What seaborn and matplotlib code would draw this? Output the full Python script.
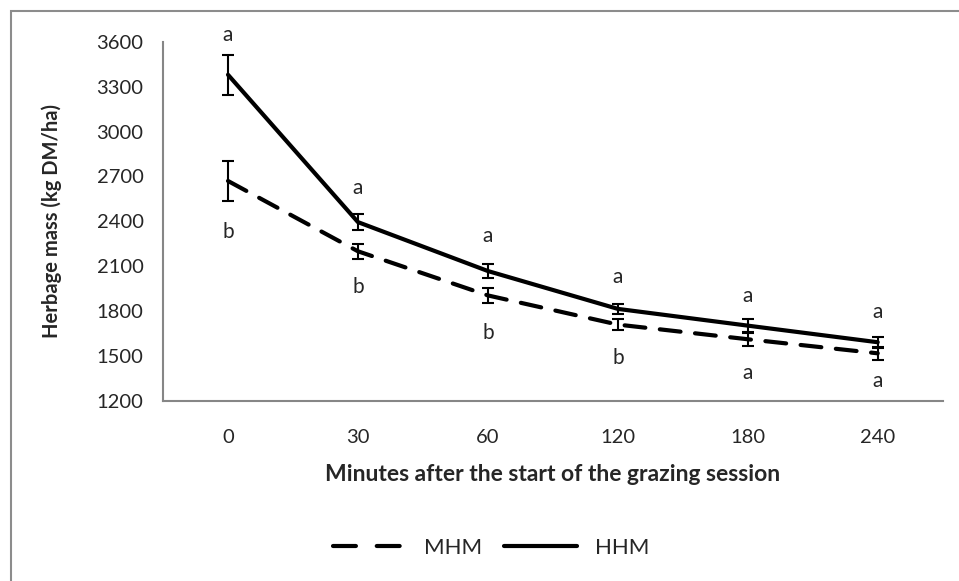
import numpy as np
import pandas as pd
import matplotlib
matplotlib.use("Agg")
import matplotlib.pyplot as plt
from matplotlib.patches import Rectangle
import seaborn as sns

# data
minutes = ["0", "30", "60", "120", "180", "240"]
mhm_mean = [2670, 2200, 1905, 1710, 1612, 1518]
mhm_err = [135, 52, 50, 35, 45, 42]
hhm_mean = [3380, 2395, 2068, 1815, 1703, 1592]
hhm_err = [135, 52, 45, 35, 43, 38]
hhm_letters = ["a", "a", "a", "a", "a", "a"]
mhm_letters = ["b", "b", "b", "b", "a", "a"]
hhm_letter_y = [3647, 2624, 2303, 2029, 1902, 1795]
mhm_letter_y = [2330, 1962, 1655, 1487, 1387, 1334]
y_ticks = [1200, 1500, 1800, 2100, 2400, 2700, 3000, 3300, 3600]

sns.set_style("white")
plt.rcParams["font.family"] = ["Lato", "DejaVu Sans"]

pos = np.arange(len(minutes))
df = pd.DataFrame({
    "pos": np.concatenate([pos, pos]),
    "mass": mhm_mean + hhm_mean,
    "group": ["MHM"] * len(minutes) + ["HHM"] * len(minutes),
})

fig = plt.figure(figsize=(9.59, 5.81), dpi=100)
ax = fig.add_axes([0.170, 0.310, 0.813, 0.618])

sns.lineplot(data=df, x="pos", y="mass", style="group", style_order=["MHM", "HHM"],
             dashes={"MHM": (5, 3.5), "HHM": ""}, color="black", linewidth=3,
             ax=ax, legend=True)
for line in ax.get_lines():
    line.set_dash_capstyle("round")

ax.errorbar(pos, mhm_mean, yerr=mhm_err, fmt="none", ecolor="black",
            elinewidth=1.5, capsize=4.5, capthick=1.5)
ax.errorbar(pos, hhm_mean, yerr=hhm_err, fmt="none", ecolor="black",
            elinewidth=1.5, capsize=4.5, capthick=1.5)

for i in range(len(minutes)):
    ax.text(pos[i], hhm_letter_y[i], hhm_letters[i], ha="center", va="center",
            fontsize=15, clip_on=False)
    ax.text(pos[i], mhm_letter_y[i], mhm_letters[i], ha="center", va="center",
            fontsize=15, clip_on=False)

ax.set_xlim(-0.5, len(minutes) - 0.5)
ax.set_ylim(1200, 3600)
ax.set_yticks(y_ticks)
ax.set_xticks(pos)
ax.set_xticklabels(minutes)
ax.set_xticks(np.arange(-0.5, len(minutes), 1.0), minor=True)
ax.tick_params(axis="x", which="major", length=0, pad=20, labelsize=14.5)
ax.tick_params(axis="x", which="minor", length=6, width=1.3, color="#868686",
               direction="out")
ax.tick_params(axis="y", length=5, width=1.3, color="#868686", direction="out",
               labelsize=14.5, pad=9)

for s in ["top", "right"]:
    ax.spines[s].set_visible(False)
for s in ["left", "bottom"]:
    ax.spines[s].set_color("#868686")
    ax.spines[s].set_linewidth(1.5)

ax.set_xlabel("Minutes after the start of the grazing session", fontsize=16.5,
              fontweight="bold", labelpad=13)
ax.set_ylabel("Herbage mass (kg DM/ha)", fontsize=14.5, fontweight="bold",
              labelpad=25)

leg = ax.legend(loc="center", bbox_to_anchor=(0.512, 1 - 548 / 581),
                bbox_transform=fig.transFigure,
                ncol=2, frameon=False, fontsize=16, handlelength=3.3,
                columnspacing=1.0, handletextpad=0.8)
for line in leg.get_lines():
    line.set_linewidth(3)
    line.set_dash_capstyle("round")
leg.get_lines()[0].set_dashes((5.5, 5))

fig.patches.append(Rectangle((11 / 959, -0.1), 1.2, 1 - 11 / 581 + 0.1,
                             transform=fig.transFigure, fill=False,
                             edgecolor="#8c8c8c", linewidth=1.5))

fig.savefig("out.png", dpi=100)
